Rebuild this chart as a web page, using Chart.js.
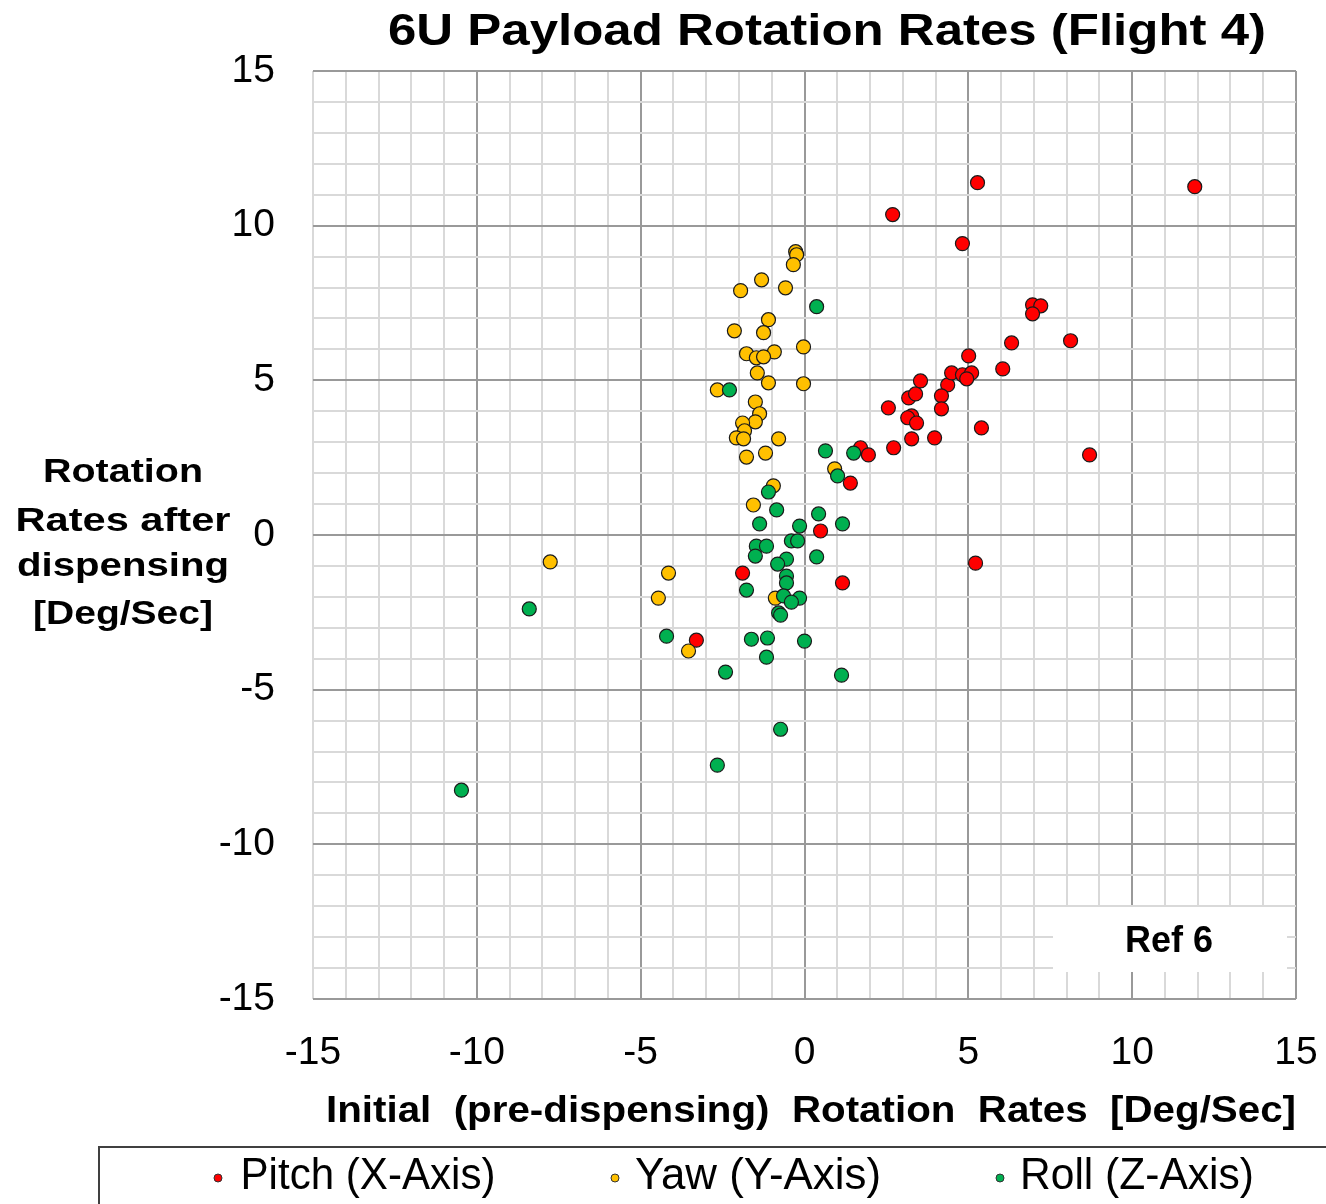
<!DOCTYPE html>
<html>
<head>
<meta charset="utf-8">
<script src="https://cdn.jsdelivr.net/npm/chart.js@4.4.1/dist/chart.umd.min.js"></script>
<style>
  body { margin: 0; background: #fff; }
  #wrap { width: 1326px; height: 1204px; position: relative; }
</style>
</head>
<body>
<div id="wrap"><canvas id="chart"></canvas></div>
<script>
// values (deg/sec)
const pitchX = [2.56, 3.18, 3.39, 3.54, 4.37, 4.49, 4.82, 5.10, 4.95, 5.01, 6.32, 6.05, 6.96, 7.21, 6.96, 8.12, 4.18, 4.18, 3.27, 3.15, 3.42, 3.27, 3.97, 2.72, 5.40, 8.70, 1.71, 1.95, 1.40, 11.91, 5.28, 2.69, 4.82, 0.49, 1.16, -1.89, -3.30, 5.22];
const pitchY = [4.11, 4.43, 4.56, 4.98, 4.85, 5.24, 5.18, 5.24, 5.05, 5.79, 6.21, 5.37, 7.44, 7.41, 7.15, 6.28, 4.50, 4.08, 3.85, 3.79, 3.62, 3.11, 3.14, 2.82, 3.46, 2.59, 2.82, 2.59, 1.68, 11.26, 11.39, 10.36, 9.42, 0.13, -1.55, -1.23, -3.40, -0.91];

const yawX = [-0.27, -0.24, -0.34, -1.31, -1.95, -0.58, -1.10, -2.14, -1.25, -0.03, -1.77, -0.92, -1.47, -1.25, -1.44, -1.10, -0.03, -2.66, -1.50, -1.37, -1.50, -1.89, -1.83, -2.08, -1.86, -0.79, -1.77, -1.19, 0.92, -0.95, -1.56, -0.89, -3.54, -7.76, -4.15, -4.46];
const yawY = [9.16, 9.06, 8.74, 8.25, 7.90, 7.99, 6.96, 6.60, 6.54, 6.08, 5.86, 5.92, 5.73, 5.76, 5.24, 4.92, 4.89, 4.69, 4.30, 3.92, 3.66, 3.62, 3.37, 3.14, 3.11, 3.11, 2.52, 2.65, 2.14, 1.59, 0.97, -2.04, -3.75, -0.87, -1.23, -2.04];

const rollX = [0.37, -2.29, 0.64, 1.50, 1.01, -1.10, -0.85, 0.43, 1.16, -1.37, -0.15, -0.40, -0.21, -1.47, -1.16, -1.50, 0.37, -0.55, -0.82, -0.55, -0.55, -1.77, -0.64, -0.15, -0.40, -0.79, -0.73, -1.62, -1.13, 0.00, -1.16, -2.41, 1.13, -8.40, -4.21, -2.66, -0.73, -10.47];
const rollY = [7.38, 4.69, 2.72, 2.65, 1.91, 1.39, 0.81, 0.68, 0.36, 0.36, 0.29, -0.19, -0.19, -0.36, -0.36, -0.68, -0.71, -0.78, -0.94, -1.33, -1.55, -1.78, -1.97, -2.04, -2.17, -2.52, -2.59, -3.37, -3.33, -3.43, -3.95, -4.43, -4.53, -2.39, -3.27, -7.44, -6.28, -8.25];

const seriesNames = ['Pitch (X-Axis)', 'Yaw (Y-Axis)', 'Roll (Z-Axis)'];
const seriesColors = ['#ff0000', '#ffc000', '#00b050'];
const axisMin = -15, axisMax = 15;

const FONT = '"Liberation Sans", Arial, sans-serif';
const minorGrid = '#d9d9d9';
const majorGrid = '#999999';

function pts(xs, ys) {
    return xs.map((x, i) => ({ x: x, y: ys[i] }));
}

// draw text squeezed/stretched to a given width, centred on (cx, cy)
function fitText(ctx, text, cx, cy, width, font) {
    ctx.save();
    ctx.font = font;
    ctx.textAlign = 'center';
    ctx.textBaseline = 'middle';
    const w = ctx.measureText(text).width;
    ctx.translate(cx, cy);
    ctx.scale(width / w, 1);
    ctx.fillText(text, 0, 0);
    ctx.restore();
}

const extras = {
    id: 'extras',
    beforeDraw(chart) {
        const ctx = chart.ctx;
        ctx.save();
        ctx.fillStyle = '#fff';
        ctx.fillRect(0, 0, chart.width, chart.height);
        ctx.restore();
    },
    afterDatasetsDraw(chart) {
        const ctx = chart.ctx;
        ctx.save();
        ctx.fillStyle = '#000';
        // title
        fitText(ctx, '6U Payload Rotation Rates (Flight 4)', 827, 33, 878, 'bold 44px ' + FONT);
        // y axis title, horizontal lines
        const yLines = ['Rotation', 'Rates after', 'dispensing', '[Deg/Sec]'];
        const yPos = [473, 522, 567, 615];
        const yW = [160, 215, 212, 180];
        yLines.forEach((t, i) => fitText(ctx, t, 123, yPos[i], yW[i], 'bold 33px ' + FONT));
        // x axis title
        fitText(ctx, 'Initial  (pre-dispensing)  Rotation  Rates  [Deg/Sec]', 811, 1112, 970, 'bold 36px ' + FONT);

        // Ref 6 box
        ctx.fillStyle = '#fff';
        ctx.fillRect(1053, 907, 234, 65);
        ctx.fillStyle = '#000';
        fitText(ctx, 'Ref 6', 1169, 942, 88, 'bold 36px ' + FONT);

        // legend box
        ctx.strokeStyle = '#404040';
        ctx.lineWidth = 2;
        ctx.strokeRect(99, 1147, 1240, 80);
        const markX = [218, 615, 1000];
        const textC = [368, 758, 1137];
        const textW = [255, 246, 234];
        seriesNames.forEach((n, i) => {
            ctx.beginPath();
            ctx.arc(markX[i], 1178, 4, 0, Math.PI * 2);
            ctx.fillStyle = seriesColors[i];
            ctx.fill();
            ctx.lineWidth = 1;
            ctx.strokeStyle = '#333';
            ctx.stroke();
            ctx.fillStyle = '#000';
            fitText(ctx, n, textC[i], 1177, textW[i], '44px ' + FONT);
        });
        ctx.restore();
    }
};

function gridColor(c) {
    const v = c.tick ? c.tick.value : 0;
    return v % 5 === 0 ? majorGrid : minorGrid;
}

const ctx = document.getElementById('chart');
new Chart(ctx, {
    type: 'scatter',
    data: {
        datasets: [{
            label: seriesNames[0],
            data: pts(pitchX, pitchY),
            backgroundColor: seriesColors[0],
            order: 3
        }, {
            label: seriesNames[1],
            data: pts(yawX, yawY),
            backgroundColor: seriesColors[1],
            order: 2
        }, {
            label: seriesNames[2],
            data: pts(rollX, rollY),
            backgroundColor: seriesColors[2],
            order: 1
        }]
    },
    options: {
        responsive: true,
        maintainAspectRatio: false,
        animation: false,
        layout: { padding: { left: 0, right: 30, top: 71, bottom: 105 } },
        elements: {
            point: { radius: 7, borderWidth: 1.2, borderColor: '#1a1a1a', hoverRadius: 7 }
        },
        plugins: {
            legend: { display: false },
            title: { display: false },
            tooltip: { enabled: false }
        },
        scales: {
            x: {
                type: 'linear',
                min: axisMin,
                max: axisMax,
                afterFit(scale) {
                    scale.height = 100;
                    scale.paddingLeft = 0;
                    scale.paddingRight = 0;
                },
                border: { display: false },
                grid: {
                    drawTicks: false,
                    lineWidth: 2,
                    color: c => (c.tick && c.tick.value === axisMin) ? minorGrid : gridColor(c)
                },
                ticks: {
                    stepSize: 1,
                    autoSkip: false,
                    maxRotation: 0,
                    padding: 31,
                    color: '#000',
                    font: { family: FONT, size: 39 },
                    callback: v => (v % 5 === 0 ? v : '')
                }
            },
            y: {
                type: 'linear',
                min: axisMin,
                max: axisMax,
                afterFit(scale) {
                    scale.width = 313;
                    scale.paddingTop = 0;
                    scale.paddingBottom = 0;
                },
                border: { display: false },
                grid: {
                    drawTicks: false,
                    lineWidth: 2,
                    color: gridColor
                },
                ticks: {
                    stepSize: 1,
                    autoSkip: false,
                    padding: 38,
                    color: '#000',
                    font: { family: FONT, size: 39 },
                    callback: v => (v % 5 === 0 ? v : '')
                }
            }
        }
    },
    plugins: [extras]
});
</script>
</body>
</html>
